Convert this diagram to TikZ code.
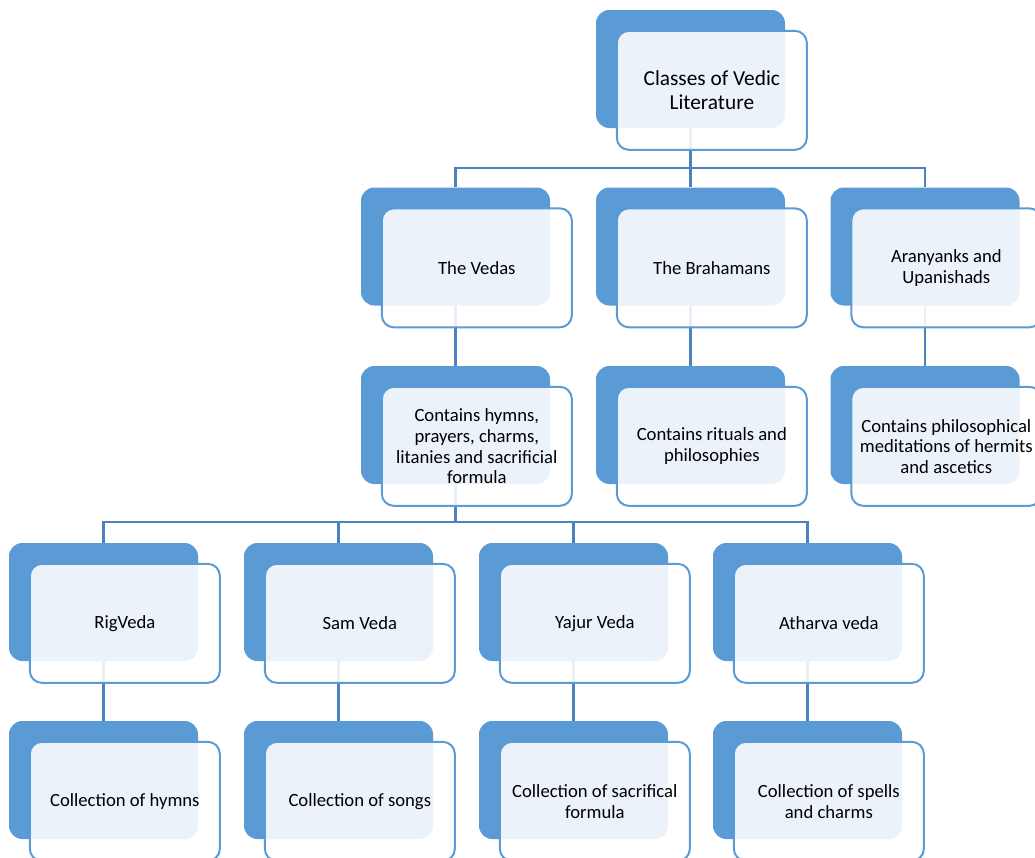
\documentclass[tikz,border=0pt]{standalone}
\usepackage{fontspec}
\setmainfont{Carlito}
\usetikzlibrary{positioning}
\definecolor{smartblue}{RGB}{91,155,213}
\definecolor{linkblue}{RGB}{76,130,192}
\begin{document}
\begin{tikzpicture}[x=0.75pt, y=-0.75pt,
		back/.style={rectangle, rounded corners=10pt, fill=smartblue, minimum width=141.75pt, minimum height=88.5pt, inner sep=0pt},
		front/.style={rectangle, rounded corners=9pt, draw=smartblue, line width=1.5pt, fill=white, fill opacity=0.88, text opacity=1, minimum width=142.5pt, minimum height=89.25pt, inner sep=0pt, align=center, xshift=16pt, yshift=-16pt, font=\fontsize{14}{15.5}\selectfont},
		link/.style={draw=linkblue, line width=1.8pt}]
		\useasboundingbox (0,0) rectangle (1035,857);

		% Level 1: root
		\node[back] (vedic) at (690.5,69) {};

		% Level 2: three classes
		\node[back] (vedas) at (455.5,246.5) {};
		\node[back] (brahmanas) at (690.5,246.5) {};
		\node[back] (aranyakas) at (925,246.5) {};

		% Level 3: what each class contains
		\node[back] (vedasinfo) at (455.5,425) {};
		\node[back] (brahinfo) at (690.5,425) {};
		\node[back] (aranyinfo) at (925,425) {};

		% Level 4: the four Vedas
		\node[back] (rig) at (103.5,602) {};
		\node[back] (sam) at (338.5,602) {};
		\node[back] (yajur) at (573.5,602) {};
		\node[back] (atharva) at (807.5,602) {};

		% Level 5: collections
		\node[back] (rigcol) at (103.5,780) {};
		\node[back] (samcol) at (338.5,780) {};
		\node[back] (yajurcol) at (573.5,780) {};
		\node[back] (atharvacol) at (807.5,780) {};

		% Connectors
		\draw[link] (vedic.south) -- ++(0,40) -| (vedas.north);
		\draw[link] (vedic.south) -- ++(0,40) -| (brahmanas.north);
		\draw[link] (vedic.south) -- ++(0,40) -| (aranyakas.north);
		\draw[link] (vedas.south) -- (vedasinfo.north);
		\draw[link] (brahmanas.south) -- (brahinfo.north);
		\draw[link] (aranyakas.south) -- (aranyinfo.north);
		\draw[link] (vedasinfo.south) -- ++(0,38) -| (rig.north);
		\draw[link] (vedasinfo.south) -- ++(0,38) -| (sam.north);
		\draw[link] (vedasinfo.south) -- ++(0,38) -| (yajur.north);
		\draw[link] (vedasinfo.south) -- ++(0,38) -| (atharva.north);
		\draw[link] (rig.south) -- (rigcol.north);
		\draw[link] (sam.south) -- (samcol.north);
		\draw[link] (yajur.south) -- (yajurcol.north);
		\draw[link] (atharva.south) -- (atharvacol.north);

		% Text cards on top
		\node[front, font=\fontsize{16}{18}\selectfont] (vedic-t) at (vedic) {Classes of Vedic\\Literature};
		\node[front] (vedas-t) at (vedas) {The Vedas};
		\node[front] (brahmanas-t) at (brahmanas) {The Brahamans};
		\node[front] (aranyakas-t) at (aranyakas) {Aranyanks and\\Upanishads};
		\node[front] (vedasinfo-t) at (vedasinfo) {Contains hymns,\\prayers, charms,\\litanies and sacrificial\\formula};
		\node[front] (brahinfo-t) at (brahinfo) {Contains rituals and\\philosophies};
		\node[front] (aranyinfo-t) at (aranyinfo) {Contains philosophical\\meditations of hermits\\and ascetics};
		\node[front] (rig-t) at (rig) {RigVeda};
		\node[front] (sam-t) at (sam) {Sam Veda};
		\node[front] (yajur-t) at (yajur) {Yajur Veda};
		\node[front] (atharva-t) at (atharva) {Atharva veda};
		\node[front] (rigcol-t) at (rigcol) {Collection of hymns};
		\node[front] (samcol-t) at (samcol) {Collection of songs};
		\node[front] (yajurcol-t) at (yajurcol) {Collection of sacrifical\\formula};
		\node[front] (atharvacol-t) at (atharvacol) {Collection of spells\\and charms};
	\end{tikzpicture}
\end{document}
